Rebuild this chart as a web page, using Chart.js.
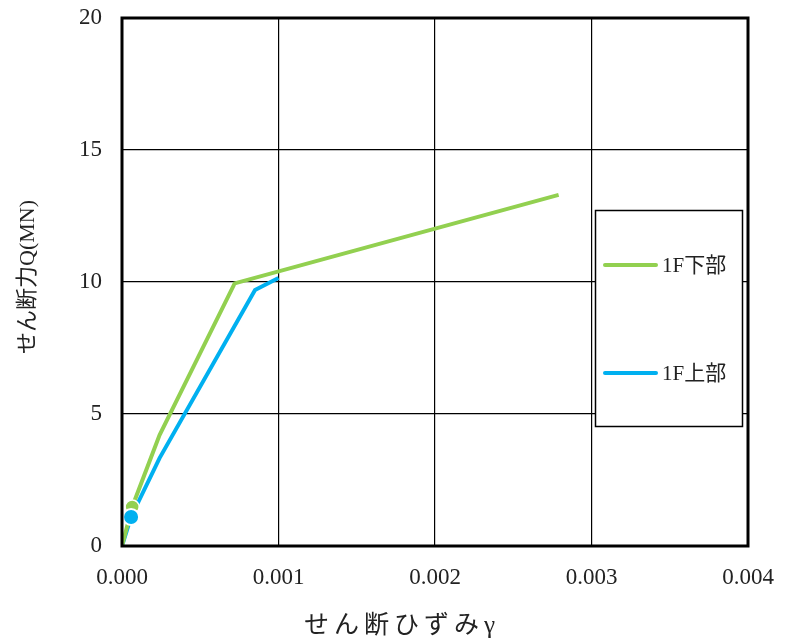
<!DOCTYPE html>
<html>
<head>
<meta charset="utf-8">
<script src="https://cdn.jsdelivr.net/npm/chart.js@4"></script>
<style>
html,body{margin:0;padding:0;background:#fff;}
#wrap{width:789px;height:644px;}
</style>
</head>
<body>
<div id="wrap"><canvas id="Chart1" width="789" height="644"></canvas></div>
<script>
// 1F下部
var strainLower = [0, 0.000065, 0.00024, 0.00072, 0.00279];
var shearLower = [0, 1.48, 4.2, 9.95, 13.3];
// 1F上部
var strainUpper = [0, 0.000058, 0.00024, 0.00085, 0.001];
var shearUpper = [0, 1.1, 3.33, 9.7, 10.15];

var legendLabels = ["1F下部", "1F上部"];
var xTicks = [0, 0.001, 0.002, 0.003, 0.004];
var yTicks = [0, 5, 10, 15, 20];
var xTitle = "せん断ひずみγ";
var yTitle = "せん断力Q(MN)";

var green = '#92D050', blue = '#00B0F0';
var fnt = '"Liberation Serif", "Noto Sans CJK JP", serif';

function pts(xs, ys){ return xs.map(function(x, i){ return {x: x, y: ys[i]}; }); }

var frame = {
  id: 'frame',
  afterDraw: function(chart){
    var c = chart.ctx, a = chart.chartArea;
    c.save();
    c.strokeStyle = '#000';
    c.lineWidth = 3;
    c.strokeRect(a.left, a.top, a.right - a.left, a.bottom - a.top);
    // legend box
    c.fillStyle = '#fff';
    c.fillRect(595, 210, 147, 216);
    c.lineWidth = 1.5;
    c.strokeRect(595.5, 210.5, 147, 216);
    var rows = [[legendLabels[0], green, 265], [legendLabels[1], blue, 373]];
    rows.forEach(function(r){
      c.strokeStyle = r[1];
      c.lineWidth = 4;
      c.lineCap = 'round';
      c.beginPath(); c.moveTo(605, r[2]); c.lineTo(656, r[2]); c.stroke();
      c.fillStyle = '#222';
      c.font = '21px ' + fnt;
      c.textBaseline = 'middle';
      c.fillText(r[0], 662, r[2] + 1);
    });
    // axis titles
    c.fillStyle = '#222';
    c.textAlign = 'center';
    c.textBaseline = 'middle';
    c.font = '25px ' + fnt;
    c.letterSpacing = '5px';
    c.fillText(xTitle, 402, 626);
    c.letterSpacing = '0px';
    c.font = '22px ' + fnt;
    c.translate(28, 277);
    c.rotate(-Math.PI / 2);
    c.fillText(yTitle, 0, 0);
    c.restore();
  }
};

function noPad(s){ s.paddingTop = 0; s.paddingBottom = 0; s.paddingLeft = 0; s.paddingRight = 0; }

var ctx = document.getElementById('Chart1').getContext('2d');
var chart = new Chart(ctx, {
  type: 'scatter',
  data: {
    datasets: [{
      label: 'marker',
      data: [pts(strainUpper, shearUpper)[1]],
      pointRadius: 8,
      pointBackgroundColor: blue,
      pointBorderColor: '#fff',
      pointBorderWidth: 2,
      showLine: false,
      order: 0
    }, {
      label: legendLabels[0],
      data: pts(strainLower, shearLower),
      showLine: true,
      borderColor: green,
      borderWidth: 4,
      pointRadius: [0, 7, 0, 0, 0],
      pointBackgroundColor: green,
      pointBorderColor: '#fff',
      pointBorderWidth: 1.5,
      order: 1
    }, {
      label: legendLabels[1],
      data: pts(strainUpper, shearUpper),
      showLine: true,
      borderColor: blue,
      borderWidth: 4,
      pointRadius: 0,
      order: 2
    }]
  },
  options: {
    responsive: false,
    animation: false,
    layout: {padding: {top: 18, right: 41, left: 0, bottom: 0}},
    plugins: {legend: {display: false}, tooltip: {enabled: false}},
    scales: {
      x: {
        type: 'linear', min: 0, max: 0.004,
        afterBuildTicks: function(s){ s.ticks = xTicks.map(function(v){ return {value: v}; }); },
        afterFit: function(s){ s.height = 98; noPad(s); },
        grid: {color: '#000', lineWidth: 1.2, drawTicks: false},
        border: {display: false},
        ticks: {color: '#222', font: {family: fnt, size: 23}, padding: 18, maxRotation: 0,
          callback: function(v){ return v.toFixed(3); }},
        title: {display: false}
      },
      y: {
        type: 'linear', min: 0, max: 20,
        afterBuildTicks: function(s){ s.ticks = yTicks.map(function(v){ return {value: v}; }); },
        afterFit: function(s){ s.width = 122; noPad(s); },
        grid: {color: '#000', lineWidth: 1.2, drawTicks: false},
        border: {display: false},
        ticks: {color: '#222', font: {family: fnt, size: 23}, padding: 20},
        title: {display: false}
      }
    }
  },
  plugins: [frame]
});
</script>
</body>
</html>
